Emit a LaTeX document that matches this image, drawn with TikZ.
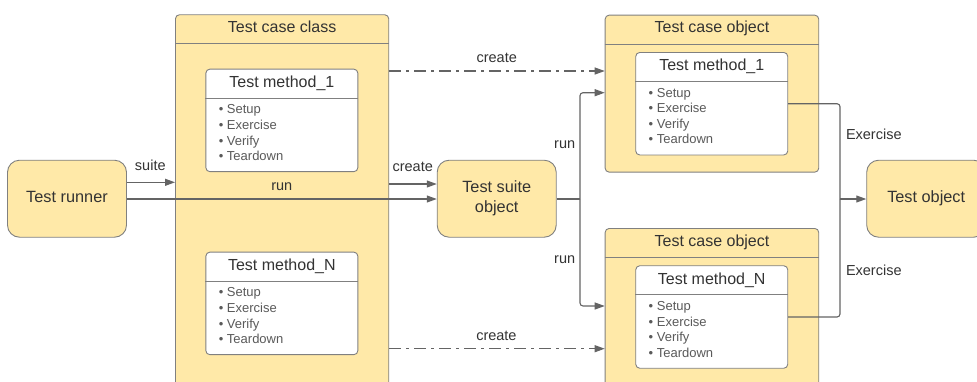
\documentclass[tikz,border=0pt]{standalone}
\usepackage{fontspec}
\setmainfont{Liberation Sans}
\usetikzlibrary{arrows.meta}

\definecolor{boxfill}{HTML}{FFE9A8}
\definecolor{boxline}{HTML}{808080}
\definecolor{wireline}{HTML}{646464}
\definecolor{txtdark}{HTML}{333333}
\definecolor{txtlist}{HTML}{5A5A5A}

\tikzset{
  actor/.style={draw=boxline, line width=0.9pt, fill=boxfill, rounded corners=12pt,
    minimum width=119pt, minimum height=77pt, inner sep=0pt, text=txtdark,
    font=\fontsize{16.3}{20}\selectfont, align=center},
  actorline/.style={actor, text height=11.7pt, text depth=4pt},
  frame/.style={draw=boxline, line width=0.9pt, fill=boxfill, rounded corners=4pt,
    inner sep=0pt, anchor=north west},
  methodbox/.style={draw=boxline, line width=0.9pt, fill=white, rounded corners=4pt,
    inner sep=0pt, anchor=north west, minimum width=152pt, minimum height=102.5pt},
  divider/.style={draw=boxline, line width=0.9pt},
  heading/.style={text=txtdark, font=\fontsize{16}{19}\selectfont, anchor=base, inner sep=0pt},
  steps/.style={text=txtlist, font=\fontsize{13}{15.6}\selectfont, align=left,
    anchor=north west, inner sep=0pt},
  plainwire/.style={draw=wireline, line width=1.1pt},
  wire/.style={plainwire, -{Triangle[length=10pt,width=7pt]}},
  dashwire/.style={wire, dash pattern=on 12pt off 5pt on 3pt off 5pt},
  tag/.style={text=txtdark, font=\fontsize{14.5}{17}\selectfont, anchor=base, inner sep=0pt},
}

% a test method card: name, left x, top y, title
\newcommand{\methodcard}[4]{%
  \node[methodbox] (#1) at (#2,#3) {};
  \draw[divider] ([yshift=-29.3pt]#1.north west) -- ([yshift=-29.3pt]#1.north east);
  \node[heading] (#1-title) at ([yshift=-18.7pt]#1.north) {#4};
  \node[steps] (#1-steps) at ([xshift=13.2pt,yshift=-35.9pt]#1.north west)
    {• Setup\\• Exercise\\• Verify\\• Teardown};
}

% a titled container: name, left x, top y, width, height, title
\newcommand{\casecard}[6]{%
  \node[frame, minimum width=#4, minimum height=#5] (#1) at (#2,#3) {};
  \draw[divider] ([yshift=-29.3pt]#1.north west) -- ([yshift=-29.3pt]#1.north east);
  \node[heading] (#1-title) at ([yshift=-18pt]#1.north) {#6};
}

\begin{document}
\begin{tikzpicture}[x=1pt,y=-1pt]
\path[use as bounding box] (0,0) rectangle (977,381);
\clip (0,0) rectangle (977,381);
\fill[white] (0,0) rectangle (977,381);

% containers
\casecard{cls}{175}{14.3}{213.3pt}{420pt}{Test case class}
\casecard{obj1}{604.7}{14.7}{213.6pt}{157pt}{Test case object}
\casecard{objN}{604.7}{228}{213.6pt}{420pt}{Test case object}

% method cards
\methodcard{clsm1}{205.4}{68.7}{Test method\_1}
\methodcard{clsmN}{205.4}{251.7}{Test method\_N}
\methodcard{obj1m}{635.3}{52}{Test method\_1}
\methodcard{objNm}{635.3}{265.3}{Test method\_N}

% stand-alone objects
\node[actorline] (runner) at (67,198.7) {Test runner};
\node[actor] (suite) at (496.7,198.7) {Test suite\\object};
\node[actorline] (target) at (926.2,198.7) {Test object};

% runner to test case class and suite
\draw[wire] (runner.east |- 0,182.3) -- (cls.west |- 0,182.3);
\node[tag] (suiteTag) at (150.3,170.7) {suite};
\draw[wire] (runner.east |- 0,199) -- (suite.west |- 0,199);
\node[tag] (runTag) at (281.8,190) {run};

% test case class creates the suite and the case objects
\draw[wire] (cls.east |- 0,184) -- (suite.west |- 0,184);
\node[tag] (createSuite) at (412.7,171.7) {create};
\draw[dashwire] (cls.east |- 0,71) -- (obj1.west |- 0,71);
\node[tag] (createTop) at (496.7,62.7) {create};
\draw[dashwire] (cls.east |- 0,348.7) -- (objN.west |- 0,348.7);
\node[tag] (createBottom) at (496.4,340.7) {create};

% suite runs each case object
\coordinate (fork) at (580,199);
\draw[plainwire] (suite.east |- 0,199) -- (fork);
\draw[wire, rounded corners=3pt] (fork) |- (obj1.west |- 0,92.7);
\draw[wire, rounded corners=3pt] (fork) |- (objN.west |- 0,306);
\node[tag] (runTop) at (564.7,148.3) {run};
\node[tag] (runBottom) at (564.7,263.3) {run};

% methods exercise the test object
\coordinate (merge) at (840,199);
\draw[plainwire, rounded corners=3pt] (obj1m.east) -| (merge);
\draw[plainwire, rounded corners=3pt] (objNm.east) -| (merge);
\draw[wire] (merge) -- (target.west |- 0,199);
\node[tag] (exTop) at (873.8,139.3) {Exercise};
\node[tag] (exBottom) at (873.8,275) {Exercise};
\end{tikzpicture}
\end{document}
